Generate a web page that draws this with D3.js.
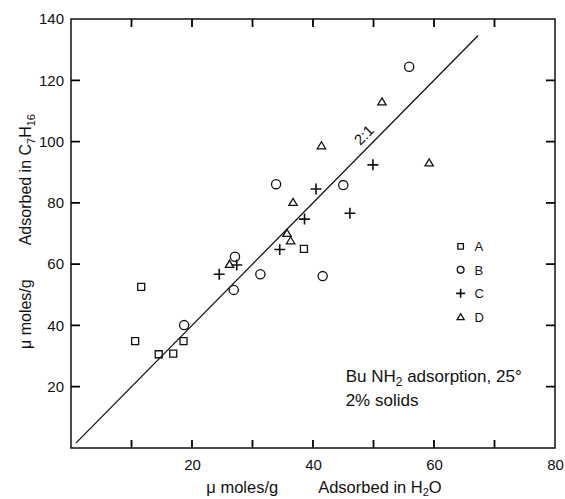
<!DOCTYPE html>
<html>
<head>
<meta charset="utf-8">
<script src="https://cdn.jsdelivr.net/npm/d3@7"></script>
<style>
  body { margin: 0; background: #fff; }
  text { font-family: "Liberation Sans", Arial, sans-serif; fill: #111; }
</style>
</head>
<body>
<div id="chart"></div>
<script>
// series: x = adsorbed in H2O, y = adsorbed in C7H16 (µmoles/g)
const seriesNames = ["A", "B", "C", "D"];
const aX = [10.6, 11.6, 14.5, 16.9, 18.6, 38.5];
const aY = [34.9, 52.6, 30.6, 30.8, 34.9, 65.0];
const bX = [18.7, 26.9, 27.1, 31.3, 33.9, 41.6, 45.0, 55.9];
const bY = [40.1, 51.6, 62.4, 56.7, 86.1, 56.1, 85.8, 124.4];
const cX = [24.5, 27.4, 34.5, 38.6, 40.5, 46.1, 49.9];
const cY = [56.7, 59.7, 64.8, 74.7, 84.5, 76.6, 92.4];
const dX = [26.2, 35.7, 36.3, 36.7, 41.4, 51.4, 59.2];
const dY = [60.0, 70.1, 67.7, 80.2, 98.7, 113.0, 93.1];

// 2:1 reference line end points
const lineX = [0.8, 67.3];
const lineY = [1.6, 134.6];

const xTicks = [10, 20, 30, 40, 50, 60, 70, 80];
const yTicks = [20, 40, 60, 80, 100, 120, 140];

const margin = { top: 19, right: 10, bottom: 51, left: 71 };
const width = 565 - margin.left - margin.right;
const height = 499 - margin.top - margin.bottom;

const svg = d3.select("#chart")
    .append("svg")
    .attr("width", 565)
    .attr("height", 499)
    .append("g")
    .attr("transform", `translate(${margin.left},${margin.top})`);

const x = d3.scaleLinear().domain([0, 80]).range([0, width]);
const y = d3.scaleLinear().domain([0, 140]).range([height, 0]);

// marker shapes
const shapes = {
    A: (s) => `M${-s},${-s}H${s}V${s}H${-s}Z`,
    C: (s) => `M${-s},0H${s}M0,${-s}V${s}`,
    D: (s) => `M0,${-s}L${s * 1.1},${s * 0.85}H${-s * 1.1}Z`
};

function drawMarker(g, name, cx, cy, big) {
    if (name === "B") {
        g.append("circle")
            .attr("cx", cx).attr("cy", cy)
            .attr("r", big ? 4.6 : 3.4)
            .attr("fill", "none").attr("stroke", "#111").attr("stroke-width", 1.3);
        return;
    }
    const s = name === "A" ? (big ? 3.5 : 2.8) : name === "C" ? (big ? 5.5 : 4.5) : (big ? 3.8 : 3.2);
    g.append("path")
        .attr("transform", `translate(${cx},${cy})`)
        .attr("d", shapes[name](s))
        .attr("fill", "none")
        .attr("stroke", "#111")
        .attr("stroke-width", name === "C" ? 1.6 : 1.3);
}

// tick labels from the axes, tick marks drawn inward on all four sides
const fmt = (d) => (d % 20 === 0 ? d : "");

svg.append("g")
    .attr("class", "x axis")
    .attr("transform", `translate(0,${height})`)
    .call(d3.axisBottom(x).tickValues(xTicks).tickSize(0).tickPadding(11).tickFormat(fmt))
    .call(g => g.select(".domain").remove());

svg.append("g")
    .attr("class", "y axis")
    .call(d3.axisLeft(y).tickValues(yTicks).tickSize(0).tickPadding(7))
    .call(g => g.select(".domain").remove());

svg.selectAll(".axis text")
    .style("font-family", '"Liberation Sans", Arial, sans-serif')
    .style("font-size", "15px")
    .attr("fill", "#111");

svg.append("rect")
    .attr("width", width)
    .attr("height", height)
    .attr("fill", "none")
    .attr("stroke", "#111")
    .attr("stroke-width", 1.5);

const tickPath = d3.path();
xTicks.slice(0, -1).forEach((v) => {
    tickPath.moveTo(x(v), height); tickPath.lineTo(x(v), height - 8);
    tickPath.moveTo(x(v), 0); tickPath.lineTo(x(v), 8);
});
yTicks.slice(0, -1).forEach((v) => {
    tickPath.moveTo(0, y(v)); tickPath.lineTo(9, y(v));
    tickPath.moveTo(width, y(v)); tickPath.lineTo(width - 9, y(v));
});
svg.append("path")
    .attr("d", tickPath.toString())
    .attr("fill", "none")
    .attr("stroke", "#000")
    .attr("stroke-width", 1.8);

// reference line
svg.append("path")
    .datum(d3.zip(lineX, lineY))
    .attr("d", d3.line().x(d => x(d[0])).y(d => y(d[1])))
    .attr("fill", "none")
    .attr("stroke", "#111")
    .attr("stroke-width", 1.3);

svg.append("text")
    .attr("transform", `translate(${x(49.2)},${y(100.6)}) rotate(-45)`)
    .attr("text-anchor", "middle")
    .attr("dy", "-0.1em")
    .style("font-size", "15px")
    .text("2:1");

// points
const allX = { A: aX, B: bX, C: cX, D: dX };
const allY = { A: aY, B: bY, C: cY, D: dY };
const pts = svg.append("g");
seriesNames.forEach((name) => {
    allX[name].forEach((v, i) => drawMarker(pts, name, x(v), y(allY[name][i]), true));
});

// legend
const legend = svg.append("g").attr("transform", `translate(${x(64.4)},${y(65.8)})`);
seriesNames.forEach((name, i) => {
    drawMarker(legend, name, 0, i * 23.5, false);
    legend.append("text")
        .attr("x", 14)
        .attr("y", i * 23.5)
        .attr("dy", "0.36em")
        .style("font-size", "13px")
        .text(name);
});

// annotation
const note = svg.append("text")
    .attr("x", x(45.4))
    .attr("y", y(21.5))
    .style("font-size", "17px");
note.append("tspan").text("Bu NH");
note.append("tspan").attr("dy", 4).style("font-size", "12px").text("2");
note.append("tspan").attr("dy", -4).text(" adsorption, 25°");
svg.append("text")
    .attr("x", x(45.4))
    .attr("y", y(13.8))
    .style("font-size", "17px")
    .text("2% solids");

// x title
const xt = svg.append("text")
    .attr("x", width / 2 + 11)
    .attr("y", height + 45)
    .attr("text-anchor", "middle")
    .style("font-size", "16.5px");
xt.append("tspan").text("μ moles/g");
xt.append("tspan").attr("dx", 40).text("Adsorbed in H");
xt.append("tspan").attr("dy", 3).style("font-size", "11px").text("2");
xt.append("tspan").attr("dy", -3).text("O");

// y title
const yt = svg.append("text")
    .attr("transform", `translate(${-40},${height / 2 - 2}) rotate(-90)`)
    .attr("text-anchor", "middle")
    .style("font-size", "16px");
yt.append("tspan").text("μ moles/g");
yt.append("tspan").attr("dx", 34).text("Adsorbed in C");
yt.append("tspan").attr("dy", 4).style("font-size", "11px").text("7");
yt.append("tspan").attr("dy", -4).text("H");
yt.append("tspan").attr("dy", 4).style("font-size", "11px").text("16");
</script>
</body>
</html>
